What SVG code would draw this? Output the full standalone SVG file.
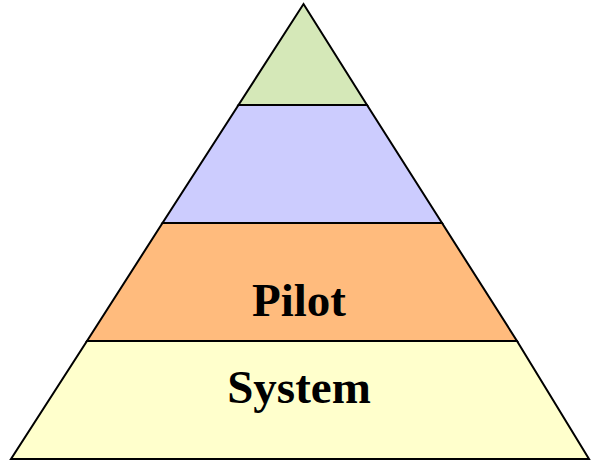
<svg xmlns="http://www.w3.org/2000/svg" width="591" height="462" viewBox="0 0 591 462">
  <style>
    .tier { stroke: #000; stroke-width: 2; stroke-linejoin: miter; }
    .label { font-family: "Liberation Serif", "Times New Roman", serif; font-weight: bold; font-size: 47px; fill: #000; text-anchor: middle; }
  </style>
  <rect width="591" height="462" fill="#fff"/>
  <!-- pyramid tiers, top to bottom -->
  <g id="tier-top">
    <polygon class="tier" fill="#d5e8b8" points="303.5,4 367,105 238.5,105"/>
  </g>
  <g id="tier-second">
    <polygon class="tier" fill="#ccccfe" points="238.5,105 367,105 442,223 162.5,223"/>
  </g>
  <g id="tier-pilot">
    <polygon class="tier" fill="#ffbb7d" points="162.5,223 442,223 517,341 87,341"/>
    <text class="label" x="299" y="316">Pilot</text>
  </g>
  <g id="tier-system">
    <polygon class="tier" fill="#ffffcc" points="87,341 517,341 589,459 11,459"/>
    <text class="label" x="299" y="403">System</text>
  </g>
</svg>
